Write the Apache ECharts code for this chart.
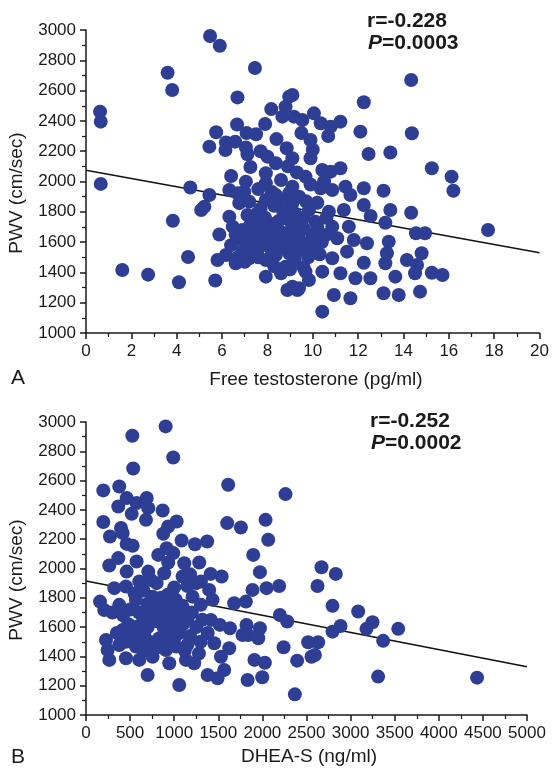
<!DOCTYPE html>
<html>
<head>
<meta charset="utf-8">
<script src="https://cdn.jsdelivr.net/npm/echarts@6/dist/echarts.min.js"></script>
<style>
    html, body { margin: 0; padding: 0; background: #fff; }
    #chart { width: 552px; height: 768px; }
</style>
</head>
<body>
<div id="chart"></div>
<script>
(function () {
    'use strict';

    // panel A: free testosterone (pg/ml) vs PWV (cm/sec)
    var testoPoints = [
        [0.62, 2461], [0.65, 2395], [0.65, 1984], [1.6, 1416], [2.74, 1385], [4.1, 1335], [4.5, 1502],
        [3.83, 1741], [3.6, 2718], [3.8, 2604], [5.47, 2960], [5.9, 2896], [7.45, 2749], [6.68, 2555],
        [4.6, 1960], [5.44, 1911], [5.08, 1812], [5.22, 1834], [5.88, 1650], [5.7, 1347], [5.8, 1482],
        [5.74, 2325], [5.44, 2230], [8.17, 2478], [6.66, 2376], [7.08, 2320], [7.5, 2312], [6.17, 2258],
        [6.58, 2263], [6.15, 2208], [7.05, 2225], [7.12, 2180], [7.25, 2096], [8.0, 2164], [6.4, 2036],
        [8.96, 2560], [8.8, 2494], [8.66, 2428], [9.17, 2428], [8.85, 2219], [9.1, 2153], [7.93, 2054],
        [8.37, 2120], [7.05, 1999], [6.32, 1944], [6.69, 1922], [6.98, 1933], [7.93, 1988], [9.1, 1966],
        [6.76, 1857], [7.2, 1867], [7.93, 1878], [8.37, 1911], [8.96, 1922], [6.32, 1768], [6.47, 1702],
        [7.12, 1779], [7.56, 1790], [7.2, 1702], [7.35, 1647], [8.08, 1724], [8.37, 1658], [8.96, 1746],
        [9.25, 1680], [7.05, 1570], [7.56, 1548], [8.08, 1570], [8.8, 1592], [8.96, 1526], [6.17, 1515],
        [6.6, 1460], [7.2, 1493], [7.93, 1482], [8.37, 1515], [8.8, 1438], [7.93, 1372], [8.6, 1394],
        [8.88, 1284], [9.32, 1284],
        [14.34, 2670], [9.1, 2571], [12.25, 2523], [9.54, 2406], [10.05, 2450], [10.35, 2384], [10.79, 2362],
        [11.22, 2395], [9.9, 2274], [12.1, 2329], [14.37, 2318], [10.68, 2300], [12.46, 2182], [13.42, 2191],
        [15.25, 2087], [16.12, 2032], [16.2, 1939], [9.9, 2153], [9.68, 2032], [10.42, 2076], [10.79, 2065],
        [11.22, 2087], [10.35, 1955], [10.86, 1944], [11.44, 1966], [11.66, 1911], [12.25, 1955], [13.12, 1939],
        [12.25, 1845], [13.42, 1812], [14.34, 1794], [12.55, 1772], [13.2, 1728], [14.55, 1658], [14.95, 1658],
        [9.1, 1856], [9.83, 1812], [10.71, 1801], [11.37, 1812], [9.39, 1724], [10.12, 1735], [10.86, 1702],
        [11.59, 1702], [9.25, 1636], [9.98, 1647], [10.57, 1647], [11.08, 1625], [11.81, 1614], [12.39, 1592],
        [13.35, 1603], [9.25, 1526], [10.05, 1548], [10.86, 1493], [11.51, 1537], [12.25, 1464], [13.27, 1526],
        [13.2, 1460], [14.15, 1482], [14.8, 1526], [13.64, 1372], [14.6, 1449], [14.51, 1394], [15.25, 1398],
        [15.72, 1383], [9.68, 1405], [10.42, 1405], [11.22, 1394], [11.88, 1361], [12.54, 1361], [9.39, 1295],
        [10.93, 1251], [11.66, 1229], [13.12, 1262], [13.79, 1251], [14.73, 1273], [10.42, 1141], [9.1, 1306],
        [9.83, 1350], [17.73, 1680],
        [7.6, 1950], [8.2, 1930], [8.6, 1880], [9.4, 1900], [9.7, 1870], [7.7, 1820], [8.3, 1840], [8.7, 1800],
        [9.2, 1790], [9.6, 1760], [7.4, 1740], [7.9, 1760], [8.5, 1740], [9.1, 1700], [9.6, 1690], [6.9, 1680],
        [7.6, 1690], [8.0, 1650], [8.7, 1660], [9.4, 1620], [9.9, 1600], [6.8, 1620], [7.3, 1600], [7.8, 1610],
        [8.4, 1600], [9.0, 1580], [9.6, 1560], [6.9, 1540], [7.6, 1500], [8.2, 1520], [8.6, 1560], [9.2, 1480],
        [9.8, 1500], [10.3, 1520], [10.4, 1600], [10.2, 1700], [10.6, 1760], [10.2, 1860], [9.9, 1980],
        [10.5, 2000], [8.6, 2010], [9.3, 2060], [8.9, 2100], [8.4, 2280], [9.5, 2320], [7.7, 2200], [7.9, 2380],
        [10.0, 2210], [9.0, 1420], [6.7, 1500], [7.0, 1470], [6.4, 1580], [6.6, 1650], [8.3, 1440], [9.6, 1430]
    ];
    var testoFit = [[0, 2075], [20, 1530]];

    // panel B: DHEA-S (ng/ml) vs PWV (cm/sec)
    var dheaPoints = [
        [903, 2970], [525, 2906], [989, 2758], [535, 2683], [1612, 2572], [196, 2533], [377, 2560], [461, 2481],
        [366, 2423], [574, 2447], [688, 2481], [706, 2412], [518, 2373], [869, 2396], [680, 2332], [1028, 2321],
        [196, 2317], [1601, 2310], [1756, 2280], [2036, 2332], [2066, 2196], [876, 2237], [932, 2287], [272, 2218],
        [416, 2242], [461, 2168], [529, 2155], [1084, 2191], [1235, 2166], [1374, 2184], [1896, 2093], [1972, 1975],
        [819, 2093], [914, 2139], [989, 2105], [932, 2041], [1114, 2036], [1284, 2041], [264, 2020], [366, 2071],
        [574, 2048], [706, 1979], [461, 1979], [1413, 1963], [1538, 1945], [397, 2276],
        [1888, 1854], [1095, 1945], [1303, 1911], [321, 1866], [453, 1877], [604, 1911], [736, 1922], [887, 1968],
        [159, 1774], [207, 1717], [377, 1752], [566, 1786], [680, 1717], [755, 1808], [831, 1763], [925, 1820],
        [1020, 1786], [1095, 1740], [755, 1672], [906, 1683], [1057, 1683], [1152, 1661], [1208, 1808],
        [1303, 1752], [1397, 1854], [1435, 1786], [1680, 1763], [1813, 1774], [1416, 1649], [1518, 1615],
        [1632, 1592], [1820, 1615], [1972, 1592], [1839, 1546], [1953, 1524], [227, 1512], [245, 1444],
        [264, 1376], [416, 1581], [529, 1546], [377, 1478], [566, 1467], [661, 1558], [755, 1398], [453, 1387],
        [604, 1376], [831, 1524], [944, 1535], [906, 1444], [1020, 1467], [944, 1353], [699, 1273], [1133, 1376],
        [1227, 1353], [1057, 1205], [1454, 1490], [1530, 1398], [1624, 1456], [1567, 1307], [1379, 1273],
        [1492, 1251], [1832, 1239], [1775, 1546], [1910, 1376], [1998, 1258], [2028, 1357], [2047, 1866],
        [2198, 1683], [2240, 1462],
        [2262, 2508], [2190, 1881], [2670, 2009], [2832, 1963], [2625, 1881], [2795, 1745], [3086, 1706],
        [3248, 1633], [3180, 1588], [3540, 1588], [3369, 1506], [2886, 1608], [2795, 1569], [2281, 1638],
        [2394, 1371], [2519, 1497], [2632, 1497], [2557, 1398], [2595, 1410], [2368, 1141], [3312, 1262],
        [4434, 1255],
        [300, 1700], [420, 1680], [500, 1720], [600, 1700], [650, 1650], [700, 1760], [780, 1720], [850, 1700],
        [950, 1740], [1000, 1650], [1100, 1620], [1200, 1700], [1250, 1600], [480, 1620], [560, 1600],
        [700, 1600], [800, 1640], [880, 1600], [980, 1580], [1060, 1560], [1180, 1540], [620, 1520], [720, 1500],
        [800, 1460], [880, 1480], [1000, 1520], [1150, 1480], [1300, 1500], [350, 1560], [450, 1500],
        [650, 1440], [750, 1480], [850, 1800], [650, 1850], [550, 1830], [1000, 1870], [1150, 1880],
        [1250, 1900], [800, 1900], [1180, 1960], [900, 1560], [720, 1660], [1120, 1440], [1280, 1420],
        [1380, 1560], [1320, 1650]
    ];
    var dheaFit = [[0, 1915], [5000, 1330]];

    var statsA = ['r=-0.228', '0.0003'];
    var statsB = ['r=-0.252', '0.0002'];

    var font = 'Liberation Sans, Arial, Helvetica, sans-serif';
    var dotColor = '#2e3e94';
    var inkColor = '#1a1a1a';

    var plain = function (v) {
        return String(v);
    };

    var makeXAxis = function (gridIndex, max, interval) {
        return {
            type: 'value',
            gridIndex: gridIndex,
            min: 0,
            max: max,
            interval: interval,
            axisLine: { lineStyle: { color: inkColor, width: 1.5 } },
            axisTick: { length: 6, lineStyle: { color: inkColor, width: 1.5 } },
            minorTick: { show: true, splitNumber: 2, length: 4, lineStyle: { color: inkColor, width: 1.2 } },
            axisLabel: { color: inkColor, fontSize: 17, fontFamily: font, margin: 10, formatter: plain },
            splitLine: { show: false }
        };
    };

    var makeYAxis = function (gridIndex) {
        return {
            type: 'value',
            gridIndex: gridIndex,
            min: 1000,
            max: 3000,
            interval: 200,
            axisLine: { show: true, lineStyle: { color: inkColor, width: 1.5 } },
            axisTick: { show: true, length: 6, lineStyle: { color: inkColor, width: 1.5 } },
            minorTick: { show: true, splitNumber: 2, length: 4, lineStyle: { color: inkColor, width: 1.2 } },
            axisLabel: { color: inkColor, fontSize: 17, fontFamily: font, margin: 10, formatter: plain },
            splitLine: { show: false }
        };
    };

    var text = function (x, y, str, size, opts) {
        opts = opts || {};
        return {
            type: 'text',
            x: x,
            y: y,
            rotation: opts.rotation || 0,
            style: {
                text: str,
                fill: inkColor,
                fontSize: size,
                fontFamily: font,
                textAlign: opts.align || 'left',
                textVerticalAlign: 'middle'
            }
        };
    };

    var statText = function (x, y, stats) {
        var r = text(x, y, stats[0], 21);
        r.style.fontWeight = 'bold';
        return [
            r,
            {
                type: 'text',
                x: x + 1,
                y: y + 22,
                style: {
                    text: '{i|P}=' + stats[1],
                    fill: inkColor,
                    fontSize: 21,
                    fontWeight: 'bold',
                    fontFamily: font,
                    textVerticalAlign: 'middle',
                    rich: {
                        i: { fontStyle: 'italic', fontWeight: 'bold', fontSize: 21, fontFamily: font, fill: inkColor }
                    }
                }
            }
        ];
    };

    var chart = echarts.init(document.getElementById('chart'), null, { renderer: 'canvas' });

    chart.setOption({
        animation: false,
        backgroundColor: '#fff',
        grid: [
            { left: 86, top: 30, width: 456, height: 303 },
            { left: 86, top: 422, width: 441, height: 293 }
        ],
        xAxis: [makeXAxis(0, 20, 2), makeXAxis(1, 5000, 500)],
        yAxis: [makeYAxis(0), makeYAxis(1)],
        series: [
            {
                type: 'line',
                xAxisIndex: 0,
                yAxisIndex: 0,
                data: testoFit,
                symbol: 'none',
                lineStyle: { color: '#111', width: 1.5 },
                z: 1
            },
            {
                type: 'scatter',
                xAxisIndex: 0,
                yAxisIndex: 0,
                data: testoPoints,
                symbolSize: 14,
                itemStyle: { color: dotColor, opacity: 1 },
                z: 2
            },
            {
                type: 'line',
                xAxisIndex: 1,
                yAxisIndex: 1,
                data: dheaFit,
                symbol: 'none',
                lineStyle: { color: '#111', width: 1.5 },
                z: 1
            },
            {
                type: 'scatter',
                xAxisIndex: 1,
                yAxisIndex: 1,
                data: dheaPoints,
                symbolSize: 14,
                itemStyle: { color: dotColor, opacity: 1 },
                z: 2
            }
        ],
        graphic: [
            text(17, 193, 'PWV (cm/sec)', 19, { rotation: Math.PI / 2, align: 'center' }),
            text(17, 580, 'PWV (cm/sec)', 19, { rotation: Math.PI / 2, align: 'center' }),
            text(316, 380, 'Free testosterone (pg/ml)', 19, { align: 'center' }),
            text(309, 757, 'DHEA-S (ng/ml)', 19, { align: 'center' }),
            text(11, 378, 'A', 21),
            text(11, 757, 'B', 21)
        ].concat(statText(367, 21, statsA), statText(370, 421, statsB))
    });
}());
</script>
</body>
</html>
